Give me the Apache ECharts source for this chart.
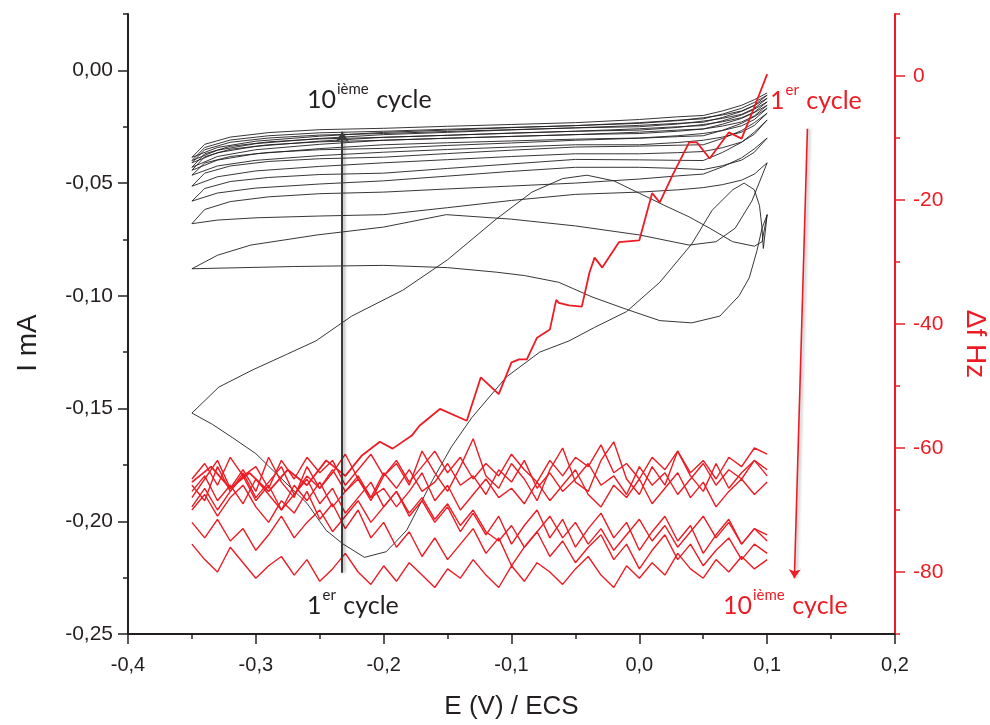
<!DOCTYPE html>
<html><head><meta charset="utf-8">
<script src="https://cdn.jsdelivr.net/npm/echarts@6.0.0/dist/echarts.min.js"></script>
<style>html,body{margin:0;padding:0;background:#fff;overflow:hidden}#c{width:990px;height:725px}</style>
</head><body><div id="c"></div>
<script>
// ---------- tick values ----------
const xTicks = [-0.4, -0.3, -0.2, -0.1, 0.0, 0.1, 0.2];
const xMinorTicks = [-0.35, -0.25, -0.15, -0.05, 0.05, 0.15];
const iTicks = [-0.25, -0.20, -0.15, -0.10, -0.05, 0.00];
const iMinorTicks = [-0.225, -0.175, -0.125, -0.075, -0.025, 0.025];
const fTicks = [0, -20, -40, -60, -80];
const fMinorTicks = [10, -10, -30, -50, -70, -90];

// ---------- CV (current, mA) ----------
const cycle1E = [0.100, 0.096, 0.090, 0.073, 0.055, 0.039, 0.020, 0.000, -0.020, -0.041, -0.060, -0.084, -0.112, -0.150, -0.185, -0.225, -0.253, -0.276, -0.303, -0.329, -0.339, -0.350, -0.334, -0.318, -0.300, -0.282, -0.260, -0.245, -0.232, -0.215, -0.198, -0.182, -0.162, -0.147, -0.131, -0.104, -0.078, -0.055, -0.035, -0.010, 0.016, 0.041, 0.057, 0.073, 0.082, 0.090, 0.094, 0.096, 0.097, 0.100];
const cycle1I = [-0.064, -0.076, -0.078, -0.076, -0.070, -0.065, -0.060, -0.0545, -0.049, -0.0465, -0.048, -0.054, -0.066, -0.084, -0.0975, -0.109, -0.120, -0.126, -0.133, -0.1405, -0.146, -0.152, -0.157, -0.163, -0.170, -0.180, -0.192, -0.204, -0.210, -0.216, -0.2135, -0.204, -0.182, -0.167, -0.154, -0.136, -0.125, -0.120, -0.114, -0.107, -0.094, -0.077, -0.062, -0.053, -0.050, -0.053, -0.060, -0.070, -0.079, -0.064];
const cycle2E = [0.100, 0.096, 0.092, 0.086, 0.078, 0.063, 0.041, 0.016, -0.010, -0.037, -0.063, -0.090, -0.112, -0.150, -0.200, -0.270, -0.350, -0.330, -0.304, -0.252, -0.200, -0.151, -0.100, -0.050, 0.000, 0.039, 0.060, 0.075, 0.088, 0.100];
const cycle2I = [-0.064, -0.070, -0.080, -0.092, -0.100, -0.109, -0.112, -0.111, -0.106, -0.1005, -0.094, -0.091, -0.0895, -0.0875, -0.0865, -0.087, -0.088, -0.082, -0.0775, -0.073, -0.0695, -0.064, -0.066, -0.069, -0.073, -0.0775, -0.076, -0.070, -0.058, -0.041];
// common potential sweep for later cycles: 0.1 -> -0.35 -> 0.1
const cvE = [0.100, 0.090, 0.080, 0.065, 0.050, 0.030, 0.000, -0.050, -0.100, -0.150, -0.200, -0.250, -0.300, -0.330, -0.350, -0.340, -0.320, -0.290, -0.250, -0.200, -0.150, -0.100, -0.050, 0.000, 0.030, 0.050, 0.065, 0.080, 0.090, 0.100];
const cycle3I = [-0.041, -0.046, -0.0487, -0.0507, -0.052, -0.053, -0.054, -0.055, -0.0577, -0.0609, -0.064, -0.0646, -0.0654, -0.0664, -0.068, -0.0617, -0.0582, -0.0561, -0.0547, -0.054, -0.0526, -0.0513, -0.050, -0.0482, -0.0468, -0.046, -0.0428, -0.0388, -0.0348, -0.030];
const cycle4I = [-0.030, -0.0363, -0.0398, -0.0423, -0.044, -0.0435, -0.043, -0.043, -0.0448, -0.0469, -0.049, -0.0504, -0.0522, -0.0544, -0.058, -0.0524, -0.0493, -0.0475, -0.0462, -0.0456, -0.0435, -0.0415, -0.0395, -0.0397, -0.0399, -0.040, -0.0364, -0.0319, -0.0274, -0.022];
const cycle5I = [-0.022, -0.0283, -0.0318, -0.0343, -0.036, -0.0365, -0.037, -0.037, -0.0382, -0.0396, -0.041, -0.0426, -0.0446, -0.0472, -0.0514, -0.0456, -0.0424, -0.0404, -0.0392, -0.0385, -0.0369, -0.0354, -0.034, -0.0336, -0.0332, -0.033, -0.0302, -0.0267, -0.0232, -0.019];
const cycle6I = [-0.019, -0.0244, -0.0274, -0.0296, -0.031, -0.032, -0.033, -0.033, -0.034, -0.0351, -0.0363, -0.0378, -0.0399, -0.0424, -0.0465, -0.0411, -0.0382, -0.0364, -0.0352, -0.0346, -0.0333, -0.0322, -0.031, -0.0301, -0.0294, -0.029, -0.0266, -0.0235, -0.0205, -0.0168];
const cycle7I = [-0.0168, -0.0218, -0.0246, -0.0267, -0.028, -0.029, -0.030, -0.0305, -0.0313, -0.0321, -0.033, -0.0347, -0.037, -0.0398, -0.0443, -0.0383, -0.035, -0.033, -0.0317, -0.031, -0.0301, -0.0293, -0.0285, -0.0274, -0.0265, -0.026, -0.0239, -0.0213, -0.0187, -0.0155];
const cycle8I = [-0.0155, -0.0202, -0.0229, -0.0247, -0.026, -0.027, -0.028, -0.0285, -0.0293, -0.0301, -0.031, -0.0328, -0.0352, -0.0382, -0.043, -0.037, -0.0337, -0.0317, -0.0304, -0.0297, -0.0288, -0.0279, -0.027, -0.0259, -0.025, -0.0245, -0.0224, -0.0198, -0.0172, -0.014];
const cycle9I = [-0.014, -0.0185, -0.021, -0.0228, -0.024, -0.0253, -0.0265, -0.027, -0.0278, -0.0288, -0.0297, -0.0314, -0.0337, -0.0365, -0.041, -0.0352, -0.0319, -0.030, -0.0287, -0.028, -0.0271, -0.0263, -0.0255, -0.0244, -0.0235, -0.023, -0.0209, -0.0182, -0.0156, -0.0124];
const cycle10I = [-0.0124, -0.0169, -0.0195, -0.0213, -0.0225, -0.0238, -0.025, -0.0255, -0.0264, -0.0275, -0.0285, -0.0302, -0.0325, -0.0354, -0.040, -0.0342, -0.0309, -0.029, -0.0277, -0.027, -0.0261, -0.0253, -0.0245, -0.0232, -0.0221, -0.0215, -0.0194, -0.0168, -0.0142, -0.011];
const cycle11I = [-0.011, -0.0155, -0.018, -0.0198, -0.021, -0.0223, -0.0235, -0.0245, -0.0254, -0.0265, -0.0275, -0.0292, -0.0314, -0.0342, -0.0386, -0.0328, -0.0296, -0.0276, -0.0263, -0.0257, -0.0248, -0.024, -0.0232, -0.0218, -0.0206, -0.020, -0.018, -0.0155, -0.013, -0.010];

// ---------- QCM frequency shift (Hz) ----------
const freq1E = [0.100, 0.090, 0.080, 0.070, 0.055, 0.045, 0.039, 0.026, 0.016, 0.010, 0.000, -0.016, -0.029, -0.035, -0.039, -0.045, -0.055, -0.063, -0.065, -0.070, -0.080, -0.088, -0.094, -0.100, -0.110, -0.124, -0.135, -0.156, -0.172, -0.178, -0.193, -0.203, -0.217, -0.230, -0.245, -0.260, -0.275, -0.290, -0.305, -0.320, -0.335, -0.350];
const freq1F = [0.3, -5.0, -10.1, -9.1, -13.3, -10.7, -10.7, -16.0, -20.4, -18.9, -26.5, -26.8, -30.9, -29.3, -31.7, -37.2, -37.0, -36.6, -36.1, -40.9, -42.2, -45.7, -45.7, -46.2, -51.3, -48.6, -55.6, -53.7, -56.4, -58.0, -60.1, -59.0, -61.2, -64.5, -62.0, -66.0, -63.5, -67.0, -64.0, -66.5, -63.0, -65.5];
const freqE = [-0.35, -0.34, -0.33, -0.32, -0.31, -0.30, -0.29, -0.28, -0.27, -0.26, -0.25, -0.24, -0.23, -0.22, -0.21, -0.20, -0.19, -0.18, -0.17, -0.16, -0.15, -0.14, -0.13, -0.12, -0.11, -0.10, -0.09, -0.08, -0.07, -0.06, -0.05, -0.04, -0.03, -0.02, -0.01, 0.00, 0.01, 0.02, 0.03, 0.04, 0.05, 0.06, 0.07, 0.08, 0.09, 0.10];
const freq2F = [-65.0, -62.5, -66.0, -61.5, -64.5, -63.0, -66.5, -62.0, -65.0, -61.5, -64.0, -62.0, -66.0, -63.5, -61.0, -64.5, -62.0, -65.5, -63.0, -60.5, -64.0, -61.5, -65.0, -62.5, -64.5, -61.0, -63.5, -65.5, -62.0, -64.5, -61.5, -63.0, -59.5, -64.0, -62.5, -65.0, -61.5, -63.5, -60.5, -64.0, -62.0, -65.0, -61.5, -63.0, -60.0, -61.0];
const freq3F = [-66.0, -68.5, -63.0, -67.0, -64.0, -68.0, -65.5, -63.0, -67.5, -64.5, -66.5, -63.5, -67.0, -65.0, -68.0, -64.0, -66.5, -63.5, -67.0, -65.5, -62.5, -66.0, -64.5, -67.5, -63.5, -65.5, -62.0, -66.5, -64.0, -67.0, -65.0, -62.5, -66.0, -64.5, -67.5, -63.0, -66.0, -64.0, -67.5, -65.0, -62.5, -66.0, -63.5, -65.0, -62.0, -63.5];
const freq4F = [-67.0, -64.5, -68.5, -66.0, -69.0, -65.0, -67.5, -70.0, -66.0, -68.5, -65.5, -69.5, -67.0, -64.5, -68.0, -66.5, -69.5, -67.0, -64.0, -68.5, -66.0, -70.0, -67.5, -65.0, -68.0, -66.5, -69.0, -65.5, -68.5, -66.0, -63.5, -67.5, -69.5, -66.0, -68.0, -65.0, -69.0, -66.5, -64.0, -68.0, -65.5, -69.5, -67.0, -65.0, -67.5, -65.5];
const freq5F = [-68.0, -65.0, -62.0, -66.5, -63.5, -67.0, -61.5, -65.5, -68.0, -63.0, -66.5, -64.0, -61.0, -65.0, -68.5, -64.5, -62.5, -66.0, -60.5, -64.0, -67.0, -63.0, -58.5, -64.5, -66.5, -62.5, -65.0, -68.5, -63.5, -60.0, -65.5, -67.0, -62.0, -59.0, -65.0, -67.5, -63.0, -66.0, -60.5, -64.5, -67.0, -62.5, -66.5, -64.0, -62.0, -64.5];
const freq6F = [-69.5, -66.5, -70.0, -67.0, -64.5, -68.5, -66.0, -70.0, -67.5, -65.0, -69.0, -66.5, -70.5, -68.0, -65.5, -69.5, -67.0, -71.0, -68.5, -72.0, -69.5, -73.5, -70.5, -74.0, -71.0, -75.5, -72.5, -70.0, -74.5, -71.5, -76.0, -73.0, -70.5, -74.5, -72.0, -76.5, -73.5, -71.0, -75.0, -72.5, -77.0, -74.0, -71.5, -75.5, -73.0, -75.0];
const freq7F = [-70.0, -67.5, -71.0, -68.0, -66.0, -69.5, -72.0, -68.5, -70.5, -67.0, -71.5, -69.0, -73.0, -70.0, -74.5, -72.0, -76.0, -73.5, -77.5, -74.5, -78.0, -75.5, -73.0, -77.0, -74.5, -79.0, -76.0, -73.5, -77.5, -75.0, -78.5, -76.0, -74.0, -78.0, -75.5, -79.5, -76.5, -74.0, -78.0, -75.5, -79.0, -76.5, -74.5, -78.0, -75.5, -77.0];
const freq8F = [-75.5, -78.0, -80.0, -76.0, -78.5, -81.0, -79.0, -77.5, -80.5, -78.0, -81.5, -79.5, -77.0, -80.0, -82.0, -79.0, -81.5, -78.5, -80.5, -82.5, -79.5, -81.0, -78.0, -80.5, -82.5, -79.0, -81.5, -78.5, -80.0, -82.0, -79.5, -77.5, -80.5, -82.5, -79.0, -81.0, -78.5, -80.5, -77.0, -79.5, -81.0, -78.0, -80.0, -77.5, -79.5, -78.0];
const freq9F = [-72.0, -74.5, -71.5, -75.0, -73.0, -76.5, -74.0, -71.0, -74.5, -72.0, -70.0, -73.5, -71.0, -68.5, -72.0, -69.5, -67.0, -70.5, -68.0, -71.5, -69.0, -72.5, -70.0, -73.5, -75.0, -72.5, -76.0, -73.5, -71.0, -74.5, -72.0, -75.5, -73.0, -76.5, -74.0, -71.5, -75.0, -72.5, -76.0, -73.5, -71.0, -74.5, -72.0, -75.5, -73.0, -74.0];

// ---------- arrows (data coordinates) ----------
const arrowCV = [[-0.2324, -0.2228], [-0.2324, -0.0272]];
const arrowFreq = [[0.1315, -8.5], [0.1213, -81.0]];

// ---------- build ----------
const BLACK = '#231f20', RED = '#ed1c24';
const zip = (e, v) => e.map((x, i) => [x, v[i]]);
const cvSets = [[cycle1E, cycle1I], [cycle2E, cycle2I], [cvE, cycle3I], [cvE, cycle4I], [cvE, cycle5I], [cvE, cycle6I], [cvE, cycle7I], [cvE, cycle8I], [cvE, cycle9I], [cvE, cycle10I], [cvE, cycle11I]];
const fSets = [[freqE, freq2F], [freqE, freq3F], [freqE, freq4F], [freqE, freq5F], [freqE, freq6F], [freqE, freq7F], [freqE, freq8F], [freqE, freq9F], [freq1E, freq1F]];

const series = [];
cvSets.forEach(([e, v]) => series.push({
  type: 'line', xAxisIndex: 0, yAxisIndex: 0, data: zip(e, v), showSymbol: false, symbol: 'none',
  lineStyle: { color: BLACK, width: 0.9 }, silent: true, z: 2
}));
fSets.forEach(([e, v], k) => series.push({
  type: 'line', xAxisIndex: 0, yAxisIndex: 2, data: zip(e, v), showSymbol: false, symbol: 'none',
  lineStyle: { color: RED, width: k === fSets.length - 1 ? 1.8 : 1.4 }, silent: true, z: 3
}));
series.push({
  type: 'lines', coordinateSystem: 'cartesian2d', xAxisIndex: 0, yAxisIndex: 0, z: 5,
  symbol: ['none', 'arrow'], symbolSize: 10,
  lineStyle: { color: '#3a3a3a', width: 2, opacity: 1, shadowBlur: 3, shadowColor: 'rgba(0,0,0,0.35)', shadowOffsetX: 2 },
  data: [{ coords: arrowCV }]
});
series.push({
  type: 'lines', coordinateSystem: 'cartesian2d', xAxisIndex: 0, yAxisIndex: 2, z: 5,
  symbol: ['none', 'arrow'], symbolSize: 9,
  lineStyle: { color: RED, width: 1.6, opacity: 1, shadowBlur: 3, shadowColor: 'rgba(0,0,0,0.3)', shadowOffsetX: 2 },
  data: [{ coords: arrowFreq }]
});

const FONT = "'Liberation Sans', Arial, sans-serif";
const LFONT = "Lato, 'Open Sans', sans-serif";
const fmtX = v => v.toFixed(1).replace('.', ',');
const fmtI = v => v.toFixed(2).replace('.', ',');
const richLab = (color) => ({
  n: { fontSize: 25, fontFamily: LFONT, fill: color, color: color, lineHeight: 30, verticalAlign: 'bottom' },
  s: { fontSize: 15, fontFamily: LFONT, fill: color, color: color, lineHeight: 30, verticalAlign: 'top', padding: [0, 1, 0, 1] }
});

const chart = echarts.init(document.getElementById('c'), null, { renderer: 'canvas', width: 990, height: 725 });
chart.setOption({
  animation: false,
  backgroundColor: '#fff',
  grid: { left: 128, right: 95, top: 14, bottom: 91, containLabel: false, outerBoundsMode: 'none' },
  xAxis: [
    { type: 'value', min: -0.4, max: 0.2, position: 'bottom', splitLine: { show: false },
      axisLine: { onZero: false, lineStyle: { color: BLACK, width: 2 } },
      axisTick: { customValues: xTicks, length: 10, inside: false, lineStyle: { color: BLACK, width: 1.5 } },
      axisLabel: { customValues: xTicks, formatter: fmtX, fontSize: 20, fontFamily: FONT, color: BLACK, margin: 21 },
      name: 'E (V) / ECS', nameLocation: 'middle', nameGap: 60,
      nameTextStyle: { fontSize: 26, fontFamily: FONT, color: BLACK } },
    { type: 'value', min: -0.4, max: 0.2, position: 'bottom', splitLine: { show: false },
      axisLine: { show: false, onZero: false },
      axisTick: { customValues: xMinorTicks, length: 5, lineStyle: { color: BLACK, width: 1.5 } },
      axisLabel: { show: false } }
  ],
  yAxis: [
    { type: 'value', min: -0.25, max: 0.025, position: 'left', splitLine: { show: false },
      axisLine: { show: true, onZero: false, lineStyle: { color: BLACK, width: 2 } },
      axisTick: { customValues: iTicks, length: 10, lineStyle: { color: BLACK, width: 1.5 } },
      axisLabel: { customValues: iTicks, formatter: fmtI, fontSize: 21, fontFamily: FONT, color: BLACK, margin: 15 },
      name: 'I mA', nameLocation: 'middle', nameGap: 86, nameRotate: 90,
      nameTextStyle: { fontSize: 28, fontFamily: FONT, color: BLACK, padding: [0, 38, 0, 0] } },
    { type: 'value', min: -0.25, max: 0.025, position: 'left', splitLine: { show: false },
      axisLine: { show: false, onZero: false },
      axisTick: { customValues: iMinorTicks, length: 5, lineStyle: { color: BLACK, width: 1.5 } },
      axisLabel: { show: false } },
    { type: 'value', min: -90, max: 10, position: 'right', splitLine: { show: false },
      axisLine: { show: true, onZero: false, lineStyle: { color: RED, width: 2 } },
      axisTick: { customValues: fTicks, length: 10, lineStyle: { color: RED, width: 1.5 } },
      axisLabel: { customValues: fTicks, fontSize: 21, fontFamily: FONT, color: RED, margin: 18 },
      name: 'Δf Hz', nameLocation: 'middle', nameGap: 66, nameRotate: -90,
      nameTextStyle: { fontSize: 28, fontFamily: FONT, color: RED, padding: [0, 0, 0, 40] } },
    { type: 'value', min: -90, max: 10, position: 'right', splitLine: { show: false },
      axisLine: { show: false, onZero: false },
      axisTick: { customValues: fMinorTicks, length: 5, lineStyle: { color: RED, width: 1.5 } },
      axisLabel: { show: false } }
  ],
  graphic: [
    { type: 'text', left: 307, top: 82, z: 10, style: { text: '{n|10}{s|ième}{n| cycle}', rich: richLab(BLACK) } },
    { type: 'text', left: 307, top: 588, z: 10, style: { text: '{n|1}{s|er}{n| cycle}', rich: richLab(BLACK) } },
    { type: 'text', left: 770, top: 83, z: 10, style: { text: '{n|1}{s|er}{n| cycle}', rich: richLab(RED) } },
    { type: 'text', left: 723, top: 588, z: 10, style: { text: '{n|10}{s|ième}{n| cycle}', rich: richLab(RED) } }
  ],
  series: series
});
</script></body></html>
